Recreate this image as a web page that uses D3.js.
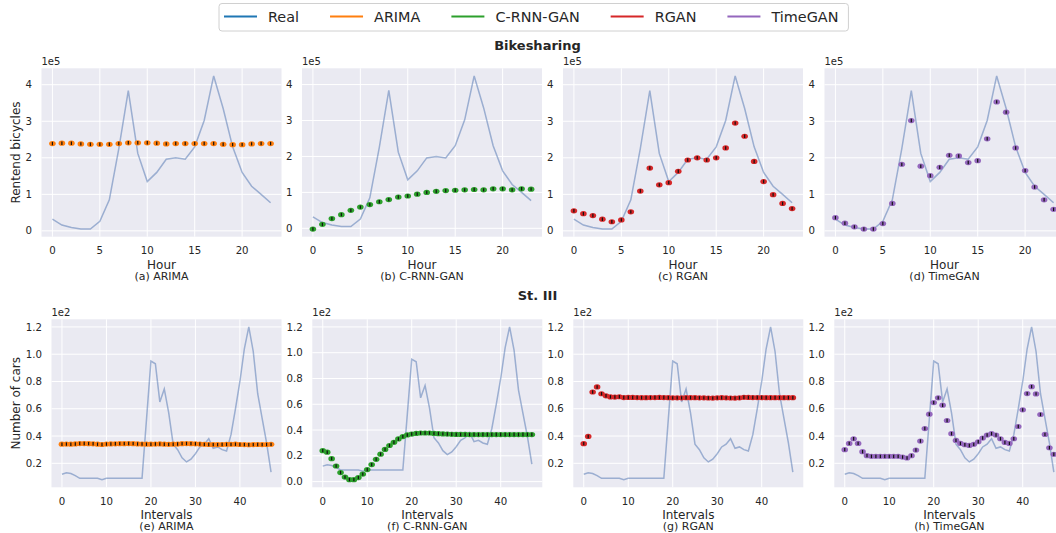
<!DOCTYPE html>
<html>
<head>
<meta charset="utf-8">
<script src="https://cdn.jsdelivr.net/npm/d3@7"></script>
<style>
  body { margin: 0; background: #fff; }
  text { font-family: "DejaVu Sans", sans-serif; fill: #262626; }
</style>
</head>
<body>
<svg id="fig" width="1056" height="533"></svg>
<script>
// --- data ---
const models = ["ARIMA", "C-RNN-GAN", "RGAN", "TimeGAN"];
const legendNames = ["Real", "ARIMA", "C-RNN-GAN", "RGAN", "TimeGAN"];
const legendColors = ["#1f77b4", "#ff7f0e", "#2ca02c", "#d62728", "#9467bd"];
const panelLetters = ["a", "b", "c", "d", "e", "f", "g", "h"];

// Bikesharing (units of 1e5), hours 0..23
const bikeReal = [0.32, 0.16, 0.09, 0.05, 0.05, 0.26, 0.85, 2.25, 3.84, 2.12, 1.35, 1.6,
                  1.96, 2.0, 1.96, 2.3, 3.02, 4.24, 3.35, 2.3, 1.6, 1.22, 1.0, 0.77];
const bikeArima = [2.39, 2.40, 2.40, 2.38, 2.37, 2.37, 2.37, 2.39, 2.41, 2.41, 2.41, 2.40,
                   2.38, 2.39, 2.39, 2.39, 2.39, 2.39, 2.37, 2.36, 2.36, 2.38, 2.39, 2.39];
const bikeCrnn = [-0.02, 0.11, 0.27, 0.38, 0.50, 0.59, 0.66, 0.74, 0.80, 0.87, 0.90, 0.95,
                  1.00, 1.03, 1.05, 1.06, 1.07, 1.08, 1.07, 1.10, 1.10, 1.07, 1.10, 1.09];
const bikeRgan = [0.55, 0.47, 0.42, 0.32, 0.25, 0.30, 0.52, 1.09, 1.72, 1.26, 1.32, 1.63,
                  1.94, 2.0, 1.94, 2.0, 2.27, 2.95, 2.59, 1.90, 1.35, 0.99, 0.75, 0.61];
const bikeTimegan = [0.36, 0.21, 0.11, 0.05, 0.05, 0.20, 0.75, 1.82, 3.02, 1.77, 1.51, 1.74,
                     2.07, 2.05, 1.87, 1.92, 2.52, 3.53, 3.25, 2.27, 1.65, 1.20, 0.85, 0.59];

// St. III (units of 1e2), intervals 0..47
const carReal = [0.12, 0.13, 0.125, 0.11, 0.09, 0.09, 0.09, 0.09, 0.09, 0.08, 0.09, 0.09,
                 0.09, 0.09, 0.09, 0.09, 0.09, 0.09, 0.09, 0.52, 0.95, 0.93, 0.65, 0.745,
                 0.57, 0.34, 0.30, 0.24, 0.21, 0.23, 0.27, 0.32, 0.34, 0.38, 0.31, 0.32,
                 0.30, 0.29, 0.41, 0.60, 0.80, 1.04, 1.20, 1.02, 0.71, 0.53, 0.35, 0.135];
const carArima = [0.340, 0.341, 0.340, 0.342, 0.345, 0.345, 0.344, 0.343, 0.340, 0.338, 0.341, 0.342,
                  0.343, 0.344, 0.344, 0.345, 0.344, 0.342, 0.341, 0.340, 0.340, 0.341, 0.342, 0.340,
                  0.339, 0.340, 0.341, 0.344, 0.345, 0.344, 0.343, 0.341, 0.339, 0.338, 0.337, 0.337,
                  0.338, 0.339, 0.339, 0.340, 0.338, 0.337, 0.336, 0.337, 0.338, 0.337, 0.338, 0.339];
const carCrnn = [0.240, 0.228, 0.178, 0.121, 0.070, 0.035, 0.015, 0.015, 0.031, 0.058, 0.093, 0.132,
                 0.173, 0.213, 0.250, 0.280, 0.305, 0.331, 0.349, 0.362, 0.369, 0.374, 0.377, 0.377,
                 0.377, 0.374, 0.372, 0.370, 0.369, 0.367, 0.366, 0.366, 0.366, 0.365, 0.365, 0.365,
                 0.365, 0.365, 0.365, 0.365, 0.365, 0.365, 0.365, 0.365, 0.365, 0.365, 0.365, 0.365];
const carRgan = [0.344, 0.397, 0.723, 0.760, 0.710, 0.695, 0.687, 0.686, 0.688, 0.682, 0.683, 0.683,
                 0.682, 0.681, 0.681, 0.682, 0.682, 0.683, 0.682, 0.681, 0.680, 0.680, 0.680, 0.681,
                 0.681, 0.681, 0.680, 0.680, 0.679, 0.678, 0.680, 0.681, 0.680, 0.679, 0.678, 0.680,
                 0.684, 0.683, 0.682, 0.682, 0.682, 0.681, 0.681, 0.681, 0.681, 0.681, 0.681, 0.681];
const carTimegan = [0.300, 0.346, 0.380, 0.346, 0.285, 0.256, 0.251, 0.251, 0.251, 0.251, 0.251, 0.251,
                    0.251, 0.246, 0.239, 0.256, 0.297, 0.363, 0.455, 0.560, 0.645, 0.680, 0.626, 0.514,
                    0.417, 0.368, 0.346, 0.336, 0.331, 0.339, 0.358, 0.385, 0.407, 0.417, 0.407, 0.380,
                    0.353, 0.346, 0.380, 0.470, 0.592, 0.711, 0.762, 0.709, 0.558, 0.412, 0.314, 0.266];

const bikeXTicks = [0, 5, 10, 15, 20];
const carXTicks = [0, 10, 20, 30, 40];
const bikeYTicks = [0, 1, 2, 3, 4];
const carYTicks = [0.0, 0.2, 0.4, 0.6, 0.8, 1.0, 1.2];

const svg = d3.select("#fig");

// --- one subplot ---
function drawPanel(p) {
    const g = svg.append("g").attr("transform", `translate(${p.left},${p.top})`);
    const w = p.width, h = p.height;

    const n = p.real.length;
    const xPad = (n - 1) * 0.05;
    const x = d3.scaleLinear().domain([-xPad, n - 1 + xPad]).range([0, w]);
    const ext = d3.extent(p.real.concat(p.pred));
    const yPad = (ext[1] - ext[0]) * 0.05;
    const y = d3.scaleLinear().domain([ext[0] - yPad, ext[1] + yPad]).range([h, 0]);

    g.append("rect").attr("width", w).attr("height", h).attr("fill", "#eaeaf2");

    const yTicks = p.yTicks.filter(t => t >= y.domain()[0] && t <= y.domain()[1]);

    // grid
    g.selectAll(".gx").data(p.xTicks).enter().append("line")
        .attr("x1", d => x(d)).attr("x2", d => x(d))
        .attr("y1", 0).attr("y2", h)
        .attr("stroke", "#fff").attr("stroke-width", 1);
    g.selectAll(".gy").data(yTicks).enter().append("line")
        .attr("x1", 0).attr("x2", w)
        .attr("y1", d => y(d)).attr("y2", d => y(d))
        .attr("stroke", "#fff").attr("stroke-width", 1);

    // tick labels
    g.selectAll(".tx").data(p.xTicks).enter().append("text")
        .attr("x", d => x(d)).attr("y", h + 17.5)
        .attr("text-anchor", "middle").style("font-size", "10.2px")
        .text(d => d);
    g.selectAll(".ty").data(yTicks).enter().append("text")
        .attr("x", -9.5).attr("y", d => y(d) + 3.6)
        .attr("text-anchor", "end").style("font-size", "10.2px")
        .text(p.yFmt);

    // offset text (1e5 / 1e2)
    g.append("text").attr("x", 0).attr("y", -3)
        .style("font-size", "10px").text(p.offset);

    // real series
    const line = d3.line().x((d, i) => x(i)).y(d => y(d));
    g.append("path").datum(p.real)
        .attr("d", line)
        .attr("fill", "none")
        .attr("stroke", "#4c72b0").attr("stroke-opacity", 0.5)
        .attr("stroke-width", 1.5);

    // generated series: colored dot with black error tick
    const pts = g.selectAll(".pt").data(p.pred).enter().append("g")
        .attr("transform", (d, i) => `translate(${x(i)},${y(d)})`);
    pts.append("ellipse").attr("rx", 3.3).attr("ry", 2.6).attr("fill", p.color);
    pts.append("line").attr("x1", 0).attr("x2", 0).attr("y1", -1.7).attr("y2", 1.7)
        .attr("stroke", "#111").attr("stroke-width", 1.2);

    // labels
    g.append("text").attr("x", w / 2).attr("y", h + 32)
        .attr("text-anchor", "middle").style("font-size", "12px").text(p.xLabel);
    g.append("text").attr("x", w / 2).attr("y", h + 43.2)
        .attr("text-anchor", "middle").style("font-size", "11px").text(p.caption);
    if (p.yLabel) {
        g.append("text")
            .attr("transform", `translate(${15.7 - p.left + 4.3},${h / 2}) rotate(-90)`)
            .attr("text-anchor", "middle").style("font-size", "12px").text(p.yLabel);
    }
}

const bikePreds = [bikeArima, bikeCrnn, bikeRgan, bikeTimegan];
const carPreds = [carArima, carCrnn, carRgan, carTimegan];
const row1Left = [41.5, 302, 563, 824.5];
const row2Left = [51.5, 312.3, 573.3, 834.3];

models.forEach((m, k) => {
    drawPanel({
        left: row1Left[k], top: 68.3, width: 240, height: 168.4,
        real: bikeReal, pred: bikePreds[k], color: legendColors[k + 1],
        xTicks: bikeXTicks, yTicks: bikeYTicks, yFmt: d3.format("d"),
        offset: "1e5", xLabel: "Hour", caption: `(${panelLetters[k]}) ${m}`,
        yLabel: k === 0 ? "Rentend bicycles" : null
    });
    drawPanel({
        left: row2Left[k], top: 319.3, width: 230, height: 168,
        real: carReal, pred: carPreds[k], color: legendColors[k + 1],
        xTicks: carXTicks, yTicks: carYTicks, yFmt: d3.format(".1f"),
        offset: "1e2", xLabel: "Intervals", caption: `(${panelLetters[k + 4]}) ${m}`,
        yLabel: k === 0 ? "Number of cars" : null
    });
});

// subfigure titles
svg.append("text").attr("x", 537.5).attr("y", 49.6).attr("text-anchor", "middle")
    .style("font-size", "13px").style("font-weight", "bold").text("Bikesharing");
svg.append("text").attr("x", 537.5).attr("y", 299.6).attr("text-anchor", "middle")
    .style("font-size", "13px").style("font-weight", "bold").text("St. III");

// --- legend ---
const leg = svg.append("g");
const legBox = leg.append("rect")
    .attr("x", 219).attr("y", 3.5).attr("height", 27.5).attr("rx", 3)
    .attr("fill", "#fff").attr("stroke", "#d0d0d0").attr("stroke-width", 1);
let lx = 224;
legendNames.forEach((name, i) => {
    leg.append("line").attr("x1", lx).attr("x2", lx + 33).attr("y1", 16.5).attr("y2", 16.5)
        .attr("stroke", legendColors[i]).attr("stroke-width", 2);
    const t = leg.append("text").attr("x", lx + 44).attr("y", 21.6)
        .style("font-size", "14.4px").text(name);
    lx = lx + 44 + t.node().getComputedTextLength() + 31;
});
legBox.attr("width", lx - 31 + 10 - 219);
</script>
</body>
</html>
